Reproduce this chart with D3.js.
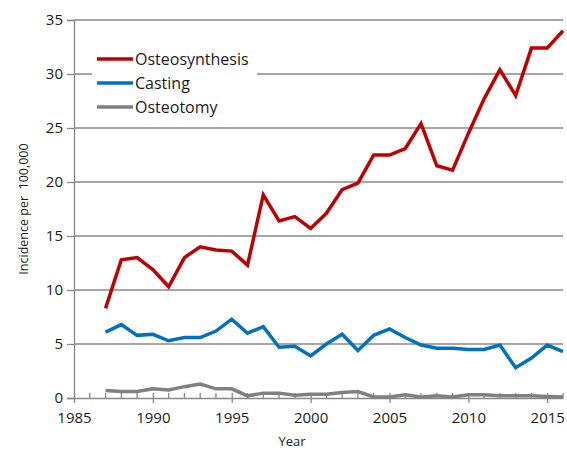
<!DOCTYPE html>
<html><head><meta charset="utf-8">
<script src="https://cdn.jsdelivr.net/npm/d3@7"></script>
<style>body{margin:0;background:#fff}svg{display:block}</style>
</head><body><svg id="c" width="567" height="455"></svg>
<script>
const years = d3.range(1987, 2017);
const osteosynthesis = [8.3,12.8,13.0,11.9,10.3,13.0,14.0,13.7,13.6,12.3,18.8,16.4,16.8,15.7,17.1,19.3,19.9,22.5,22.5,23.1,25.4,21.5,21.1,24.5,27.7,30.4,28.0,32.4,32.4,34.0];
const casting = [6.1,6.8,5.8,5.9,5.3,5.6,5.6,6.2,7.3,6.0,6.6,4.7,4.8,3.9,5.0,5.9,4.4,5.8,6.4,5.6,4.9,4.6,4.6,4.5,4.5,4.9,2.8,3.7,4.9,4.3];
const osteotomy = [0.7,0.6,0.6,0.85,0.75,1.05,1.3,0.85,0.85,0.2,0.45,0.45,0.25,0.35,0.35,0.5,0.6,0.1,0.1,0.3,0.1,0.2,0.1,0.3,0.3,0.2,0.2,0.2,0.15,0.1];
const seriesNames = ["Osteosynthesis","Casting","Osteotomy"];
const seriesColors = ["#C00000","#0070C0","#808080"];
const yTicks = [0,5,10,15,20,25,30,35];
const xTicks = [1985,1990,1995,2000,2005,2010,2015];

const svg = d3.select("#c");
const font = "'Open Sans', sans-serif";
const x = d3.scaleLinear().domain([1985, 2016]).range([74, 563]);
const y = d3.scaleLinear().domain([0, 35]).range([398, 20]);

// gridlines
svg.append("g").selectAll("line").data(yTicks.filter(d => d > 0)).join("line")
  .attr("x1", x(1985)).attr("x2", x(2016)).attr("y1", d => y(d)).attr("y2", d => y(d))
  .attr("stroke", "#888").attr("stroke-width", 1.3);

// y axis
const yAxis = svg.append("g").attr("transform", `translate(${x(1985)},0)`)
  .call(d3.axisLeft(y).tickValues(yTicks).tickSize(7).tickPadding(4));
yAxis.select(".domain").attr("stroke", "#888").attr("stroke-width", 1.3);
yAxis.selectAll(".tick line").attr("stroke", "#888").attr("stroke-width", 1.3);
yAxis.selectAll("text").attr("font-family", font).attr("font-size", 15).attr("fill", "#1a1a1a");

// x axis
const xAxis = svg.append("g").attr("transform", `translate(0,${y(0)})`)
  .call(d3.axisBottom(x).tickValues(xTicks).tickFormat(d3.format("d")).tickSize(5).tickPadding(9).tickSizeOuter(0));
xAxis.select(".domain").attr("stroke", "#888").attr("stroke-width", 1.3);
xAxis.selectAll(".tick line").attr("stroke", "#888").attr("stroke-width", 1.3).attr("y1", -5).attr("y2", 5);
xAxis.selectAll("text").attr("font-family", font).attr("font-size", 15).attr("fill", "#1a1a1a");
// minor ticks
svg.append("g").selectAll("line").data(d3.range(1986, 2017).filter(d => d % 5 !== 0)).join("line")
  .attr("x1", d => x(d)).attr("x2", d => x(d)).attr("y1", y(0)).attr("y2", y(0) - 5)
  .attr("stroke", "#888").attr("stroke-width", 1.3);

// legend background (covers gridline)
svg.append("rect").attr("x", 92).attr("y", 34).attr("width", 165).attr("height", 84).attr("fill", "#fff");

// lines
const line = d3.line().x((d, i) => x(years[i])).y(d => y(d));
[osteosynthesis, casting, osteotomy].forEach((s, i) => {
  svg.append("path").datum(s).attr("d", line).attr("fill", "none")
    .attr("stroke", seriesColors[i]).attr("stroke-width", 3.5).attr("stroke-linejoin", "miter");
});

// legend
const lg = svg.append("g");
seriesNames.forEach((n, i) => {
  const yy = 59 + i * 24;
  lg.append("line").attr("x1", 97).attr("x2", 133).attr("y1", yy).attr("y2", yy)
    .attr("stroke", seriesColors[i]).attr("stroke-width", 3.5);
  lg.append("text").attr("x", 135).attr("y", yy).attr("dy", "0.35em")
    .attr("font-family", font).attr("font-size", 16).attr("fill", "#1a1a1a").text(n);
});

// axis titles
svg.append("text").attr("transform", `translate(24,209) rotate(-90)`).attr("text-anchor", "middle")
  .attr("dy", "0.35em").attr("font-family", font).attr("font-size", 12.5).attr("fill", "#1a1a1a")
  .text("Incidence per  100,000").style("white-space", "pre");
svg.append("text").attr("x", 292).attr("y", 446).attr("text-anchor", "middle")
  .attr("font-family", font).attr("font-size", 13).attr("fill", "#1a1a1a").text("Year");
</script></body></html>
